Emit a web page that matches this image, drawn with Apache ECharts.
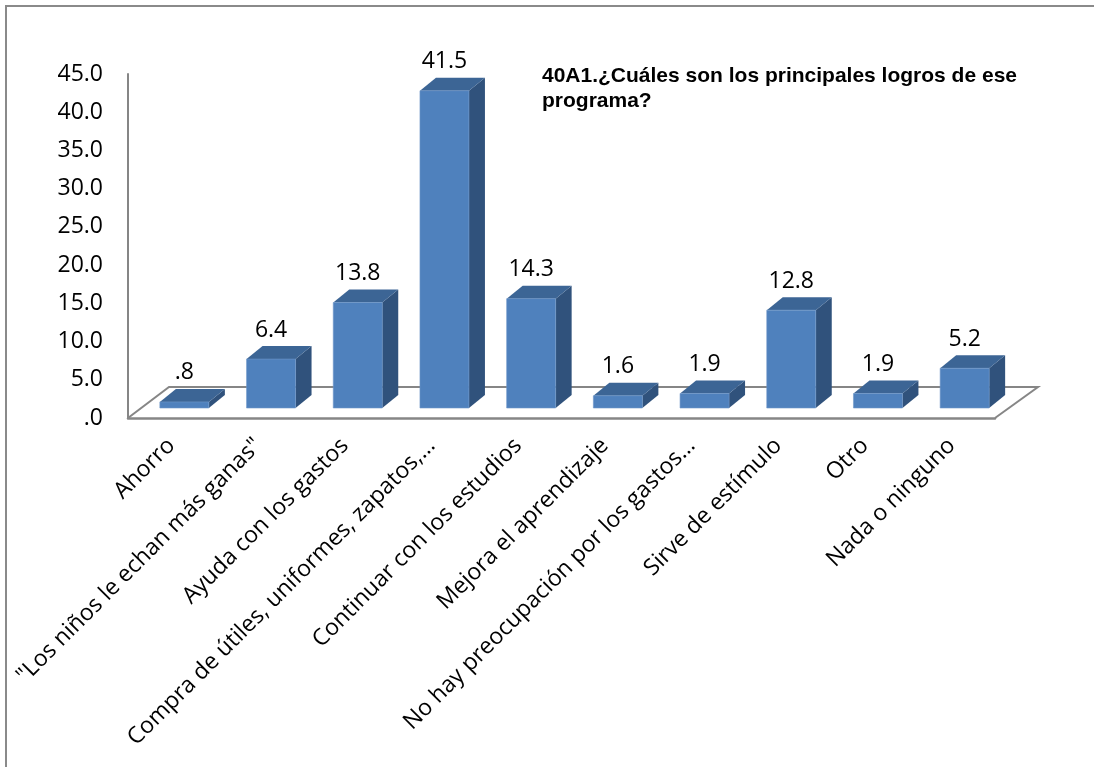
<!DOCTYPE html>
<html>
<head>
<meta charset="utf-8">
<script src="https://cdn.jsdelivr.net/npm/echarts@6/dist/echarts.min.js"></script>
<style>
  html, body { margin: 0; padding: 0; background: #fff; }
  #chart { width: 1094px; height: 767px; }
</style>
</head>
<body>
<div id="chart"></div>
<script>
// Survey answers and their percentages
const categories = [
  'Ahorro',
  '"Los niños le echan más ganas"',
  'Ayuda con los gastos',
  'Compra de útiles, uniformes, zapatos,…',
  'Continuar con los estudios',
  'Mejora el aprendizaje',
  'No hay preocupación por los gastos…',
  'Sirve de estímulo',
  'Otro',
  'Nada o ninguno'
];
const values = [0.8, 6.4, 13.8, 41.5, 14.3, 1.6, 1.9, 12.8, 1.9, 5.2];
const valueAxisMin = 0;
const valueAxisMax = 45;
const valueAxisStep = 5;
const titleText = '40A1.¿Cuáles son los principales logros de ese\nprograma?';

// Spreadsheet-style number format: one decimal, no leading zero
function fmt(v) {
  const s = Number(v).toFixed(1);
  return s.charAt(0) === '0' ? s.slice(1) : s;
}

const FONT = '"Open Sans", "DejaVu Sans", sans-serif';
const FRONT = '#4f81bd';
const TOP = '#3c6595';
const SIDE = '#30527c';
const AXIS_GRAY = '#868686';

// pseudo-3D depth offsets (pixels)
const BAR_DX = 16, BAR_DY = -13;     // column depth
const FLOOR_DX = 41, FLOOR_DY = -31; // floor depth
const BAR_SHIFT_X = 0.15;            // column offset inside band (fraction)
const BAR_SHIFT_Y = -10;             // column sits slightly behind the front edge
const BAR_WIDTH = 0.565;             // fraction of band

function renderFloor(params, api) {
  const cs = params.coordSys;
  const xl = cs.x, xr = cs.x + cs.width, yb = cs.y + cs.height;
  return {
    type: 'polyline',
    shape: { points: [[xl, yb], [xl + FLOOR_DX, yb + FLOOR_DY], [xr + FLOOR_DX + 2, yb + FLOOR_DY], [xr, yb]] },
    style: { stroke: AXIS_GRAY, lineWidth: 2, fill: null }
  };
}

function renderBar(params, api) {
  const i = api.value(0);
  const v = api.value(1);
  const base = api.coord([i, 0]);
  const top = api.coord([i, v]);
  const band = api.size([1, 0])[0];
  const w = band * BAR_WIDTH;
  const cx = base[0] + band * BAR_SHIFT_X;
  const x0 = cx - w / 2, x1 = cx + w / 2;
  const yb = base[1] + BAR_SHIFT_Y;
  const yt = top[1] + BAR_SHIFT_Y;
  return {
    type: 'group',
    children: [
      {
        type: 'polygon',
        shape: { points: [[x1, yt], [x1 + BAR_DX, yt + BAR_DY], [x1 + BAR_DX, yb + BAR_DY], [x1, yb]] },
        style: { fill: SIDE }
      },
      {
        type: 'polygon',
        shape: { points: [[x0, yt], [x0 + BAR_DX, yt + BAR_DY], [x1 + BAR_DX, yt + BAR_DY], [x1, yt]] },
        style: { fill: TOP }
      },
      {
        type: 'rect',
        shape: { x: x0, y: yt, width: w, height: yb - yt },
        style: { fill: FRONT, stroke: '#6f97c9', lineWidth: 0.6 }
      },
      {
        type: 'text',
        style: {
          text: fmt(v), x: cx, y: yt + BAR_DY - 16,
          align: 'center', verticalAlign: 'middle',
          fontFamily: FONT, fontSize: 23, fill: '#000'
        }
      }
    ]
  };
}

const chart = echarts.init(document.getElementById('chart'), null, { renderer: 'canvas' });
chart.setOption({
  backgroundColor: '#fff',
  animation: false,
  title: {
    text: titleText,
    left: 537, top: 59,
    textStyle: { fontFamily: '"Liberation Sans", Arial, sans-serif', fontWeight: 'bold', fontSize: 21, lineHeight: 25, color: '#000' }
  },
  graphic: [{
    type: 'polyline',
    shape: { points: [[6, 767], [6, 6], [1094, 6]] },
    style: { stroke: '#8a8a8a', lineWidth: 2, fill: null }
  }],
  grid: { left: 128, right: 99, top: 74, bottom: 349, containLabel: false },
  xAxis: {
    type: 'category',
    data: categories,
    axisLine: { show: true, lineStyle: { color: AXIS_GRAY, width: 2.5 } },
    axisTick: { show: false },
    axisLabel: { interval: 0, rotate: 45, margin: 24, fontFamily: FONT, fontSize: 23, color: '#000' },
    splitLine: { show: false }
  },
  yAxis: {
    type: 'value',
    min: valueAxisMin, max: valueAxisMax, interval: valueAxisStep,
    axisLine: { show: true, lineStyle: { color: AXIS_GRAY, width: 2 } },
    axisTick: { show: false },
    splitLine: { show: false },
    axisLabel: { formatter: fmt, margin: 25, fontFamily: FONT, fontSize: 23, color: '#000' }
  },
  series: [
    { type: 'custom', name: 'floor', renderItem: renderFloor, data: [[0]], z: 1, silent: true },
    {
      type: 'custom', name: 'logros', renderItem: renderBar, z: 2,
      encode: { x: 0, y: 1 },
      data: values.map((v, i) => [i, v])
    }
  ]
});
</script>
</body>
</html>
